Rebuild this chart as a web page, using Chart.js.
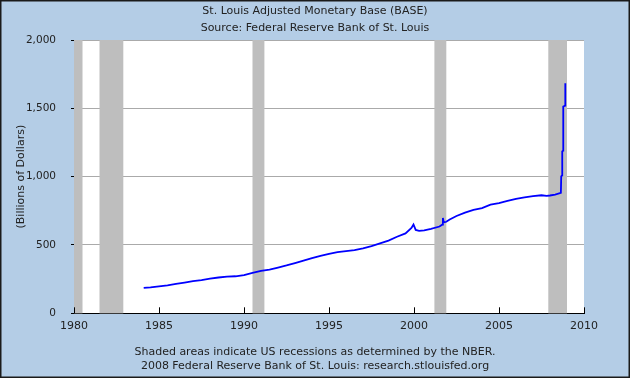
<!DOCTYPE html>
<html>
<head>
<meta charset="utf-8">
<title>St. Louis Adjusted Monetary Base</title>
<script src="https://cdn.jsdelivr.net/npm/chart.js@4/dist/chart.umd.min.js"></script>
<style>
    body { margin: 0; background: #b4cde6; }
    canvas { display: block; }
</style>
</head>
<body>
<canvas id="graphique-base" width="630" height="378"></canvas>
<script>
// Données (année décimale, milliards de dollars)
const annees = [
    1984.1, 1984.5, 1985.0, 1985.5, 1986.0, 1986.5, 1987.0, 1987.5, 1988.0, 1988.5,
    1989.0, 1989.5, 1990.0, 1990.5, 1991.0, 1991.5, 1992.0, 1992.5, 1993.0, 1993.5,
    1994.0, 1994.5, 1995.0, 1995.5, 1996.0, 1996.5, 1997.0, 1997.5, 1998.0, 1998.5,
    1999.0, 1999.5, 1999.85, 1999.97, 2000.1, 2000.3, 2000.6, 2001.0, 2001.5, 2001.68,
    2001.7, 2001.75, 2001.9, 2002.1, 2002.5, 2003.0, 2003.5, 2004.0, 2004.5, 2005.0,
    2005.5, 2006.0, 2006.5, 2007.0, 2007.5, 2007.8, 2008.0, 2008.3, 2008.64, 2008.66,
    2008.71, 2008.72, 2008.77, 2008.78, 2008.89, 2008.9
];
const valeurs = [
    186, 190, 197, 205, 215, 225, 236, 243, 253, 262,
    268, 271, 280, 296, 310, 320, 335, 350, 368, 385,
    403, 420, 435, 447, 455, 462, 475, 492, 512, 532,
    560, 585, 625, 650, 610, 603, 607, 618, 635, 650,
    698, 665, 670, 686, 712, 737, 757, 770, 795, 806,
    822, 838, 848, 857, 864, 860, 862, 869, 881, 1002,
    1010, 1185, 1190, 1513, 1520, 1684
];

// Récessions NBER (zones grises)
const debutsRecession = [1980.0, 1981.5, 1990.5, 2001.2, 2007.9];
const finsRecession = [1980.5, 1982.9, 1991.2, 2001.9, 2009.0];

const etiquettesY = [0, 500, 1000, 1500, 2000];

const titre = ["St. Louis Adjusted Monetary Base (BASE)", "Source: Federal Reserve Bank of St. Louis"];
const piedDePage = ["Shaded areas indicate US recessions as determined by the NBER.",
    "2008 Federal Reserve Bank of St. Louis: research.stlouisfed.org"];

const police = "'DejaVu Sans', Verdana, sans-serif";

const points = annees.map((a, i) => ({ x: a, y: valeurs[i] }));

// Fond, cadre, zones de récession et graduations de l'axe X
const pluginFond = {
    id: "fond",
    beforeDraw(chart) {
        const ctx = chart.ctx;
        ctx.save();
        ctx.fillStyle = "#b4cde6";
        ctx.fillRect(0, 0, chart.width, chart.height);
        const a = chart.chartArea;
        ctx.fillStyle = "#ffffff";
        ctx.fillRect(a.left, a.top, a.right - a.left, a.bottom - a.top);
        ctx.restore();
    },
    beforeDatasetsDraw(chart) {
        const ctx = chart.ctx;
        const a = chart.chartArea;
        const x = chart.scales.x;
        ctx.save();
        ctx.fillStyle = "#bebebe";
        for (let i = 0; i < debutsRecession.length; i++) {
            const x1 = x.getPixelForValue(debutsRecession[i]);
            const x2 = x.getPixelForValue(finsRecession[i]);
            ctx.fillRect(x1, a.top, x2 - x1, a.bottom - a.top);
        }
        ctx.restore();
    },
    afterDraw(chart) {
        const ctx = chart.ctx;
        const a = chart.chartArea;
        const x = chart.scales.x;
        ctx.save();
        ctx.strokeStyle = "#000000";
        ctx.lineWidth = 1;
        ctx.beginPath();
        for (const t of x.ticks) {
            const px = Math.round(x.getPixelForValue(t.value)) + 0.5;
            ctx.moveTo(px, a.bottom);
            ctx.lineTo(px, a.bottom - 6);
        }
        ctx.stroke();
        ctx.strokeStyle = "#1a1a1a";
        ctx.lineWidth = 1.5;
        ctx.strokeRect(0.75, 0.75, chart.width - 1.5, chart.height - 1.5);
        ctx.restore();
    }
};

const config = {
    type: "line",
    data: {
        datasets: [{
            data: points,
            borderColor: "#0000ff",
            borderWidth: 1.8,
            pointRadius: 0,
            tension: 0,
            fill: false
        }]
    },
    options: {
        responsive: false,
        animation: false,
        locale: "en-US",
        layout: { padding: 0 },
        plugins: {
            legend: { display: false },
            tooltip: { enabled: false },
            title: {
                display: true,
                text: titre,
                color: "#222222",
                font: { family: police, size: 11, weight: "normal", lineHeight: 1.5 },
                padding: { top: 3, bottom: 4 }
            },
            subtitle: {
                display: true,
                position: "bottom",
                text: piedDePage,
                color: "#222222",
                font: { family: police, size: 11, weight: "normal", lineHeight: 1.35 },
                padding: { top: 5, bottom: 4 }
            }
        },
        scales: {
            x: {
                type: "linear",
                min: 1980,
                max: 2010,
                afterFit(scale) { scale.height = 26; },
                grid: { display: true, drawOnChartArea: false, drawTicks: false },
                border: { display: true, color: "#000000", width: 1 },
                ticks: {
                    stepSize: 5,
                    padding: 6,
                    color: "#222222",
                    font: { family: police, size: 11 },
                    maxRotation: 0,
                    callback: (v) => String(v)
                }
            },
            y: {
                type: "linear",
                min: 0,
                max: 2000,
                afterFit(scale) { scale.width = 74; },
                afterBuildTicks(scale) {
                    scale.ticks = etiquettesY.map(v => ({ value: v }));
                },
                grid: {
                    color: (c) => (c.tick && c.tick.value === 0) ? "#000000" : "#aaaaaa",
                    tickColor: "#000000",
                    tickLength: 3,
                    lineWidth: 1
                },
                border: { display: true, color: "#000000", width: 1 },
                ticks: {
                    padding: 15,
                    color: "#222222",
                    font: { family: police, size: 10.5 }
                },
                title: {
                    display: true,
                    text: "(Billions of Dollars)",
                    color: "#222222",
                    font: { family: police, size: 11 },
                    padding: { top: 15, bottom: 0 }
                }
            },
            // axe vide à droite pour garder le titre centré sur toute la largeur
            marge: {
                type: "linear",
                position: "right",
                display: true,
                afterFit(scale) { scale.width = 46; },
                grid: { display: false },
                border: { display: false },
                ticks: { display: false }
            }
        }
    },
    plugins: [pluginFond]
};

const graphiqueBase = new Chart(document.querySelector("#graphique-base"), config);
</script>
</body>
</html>
